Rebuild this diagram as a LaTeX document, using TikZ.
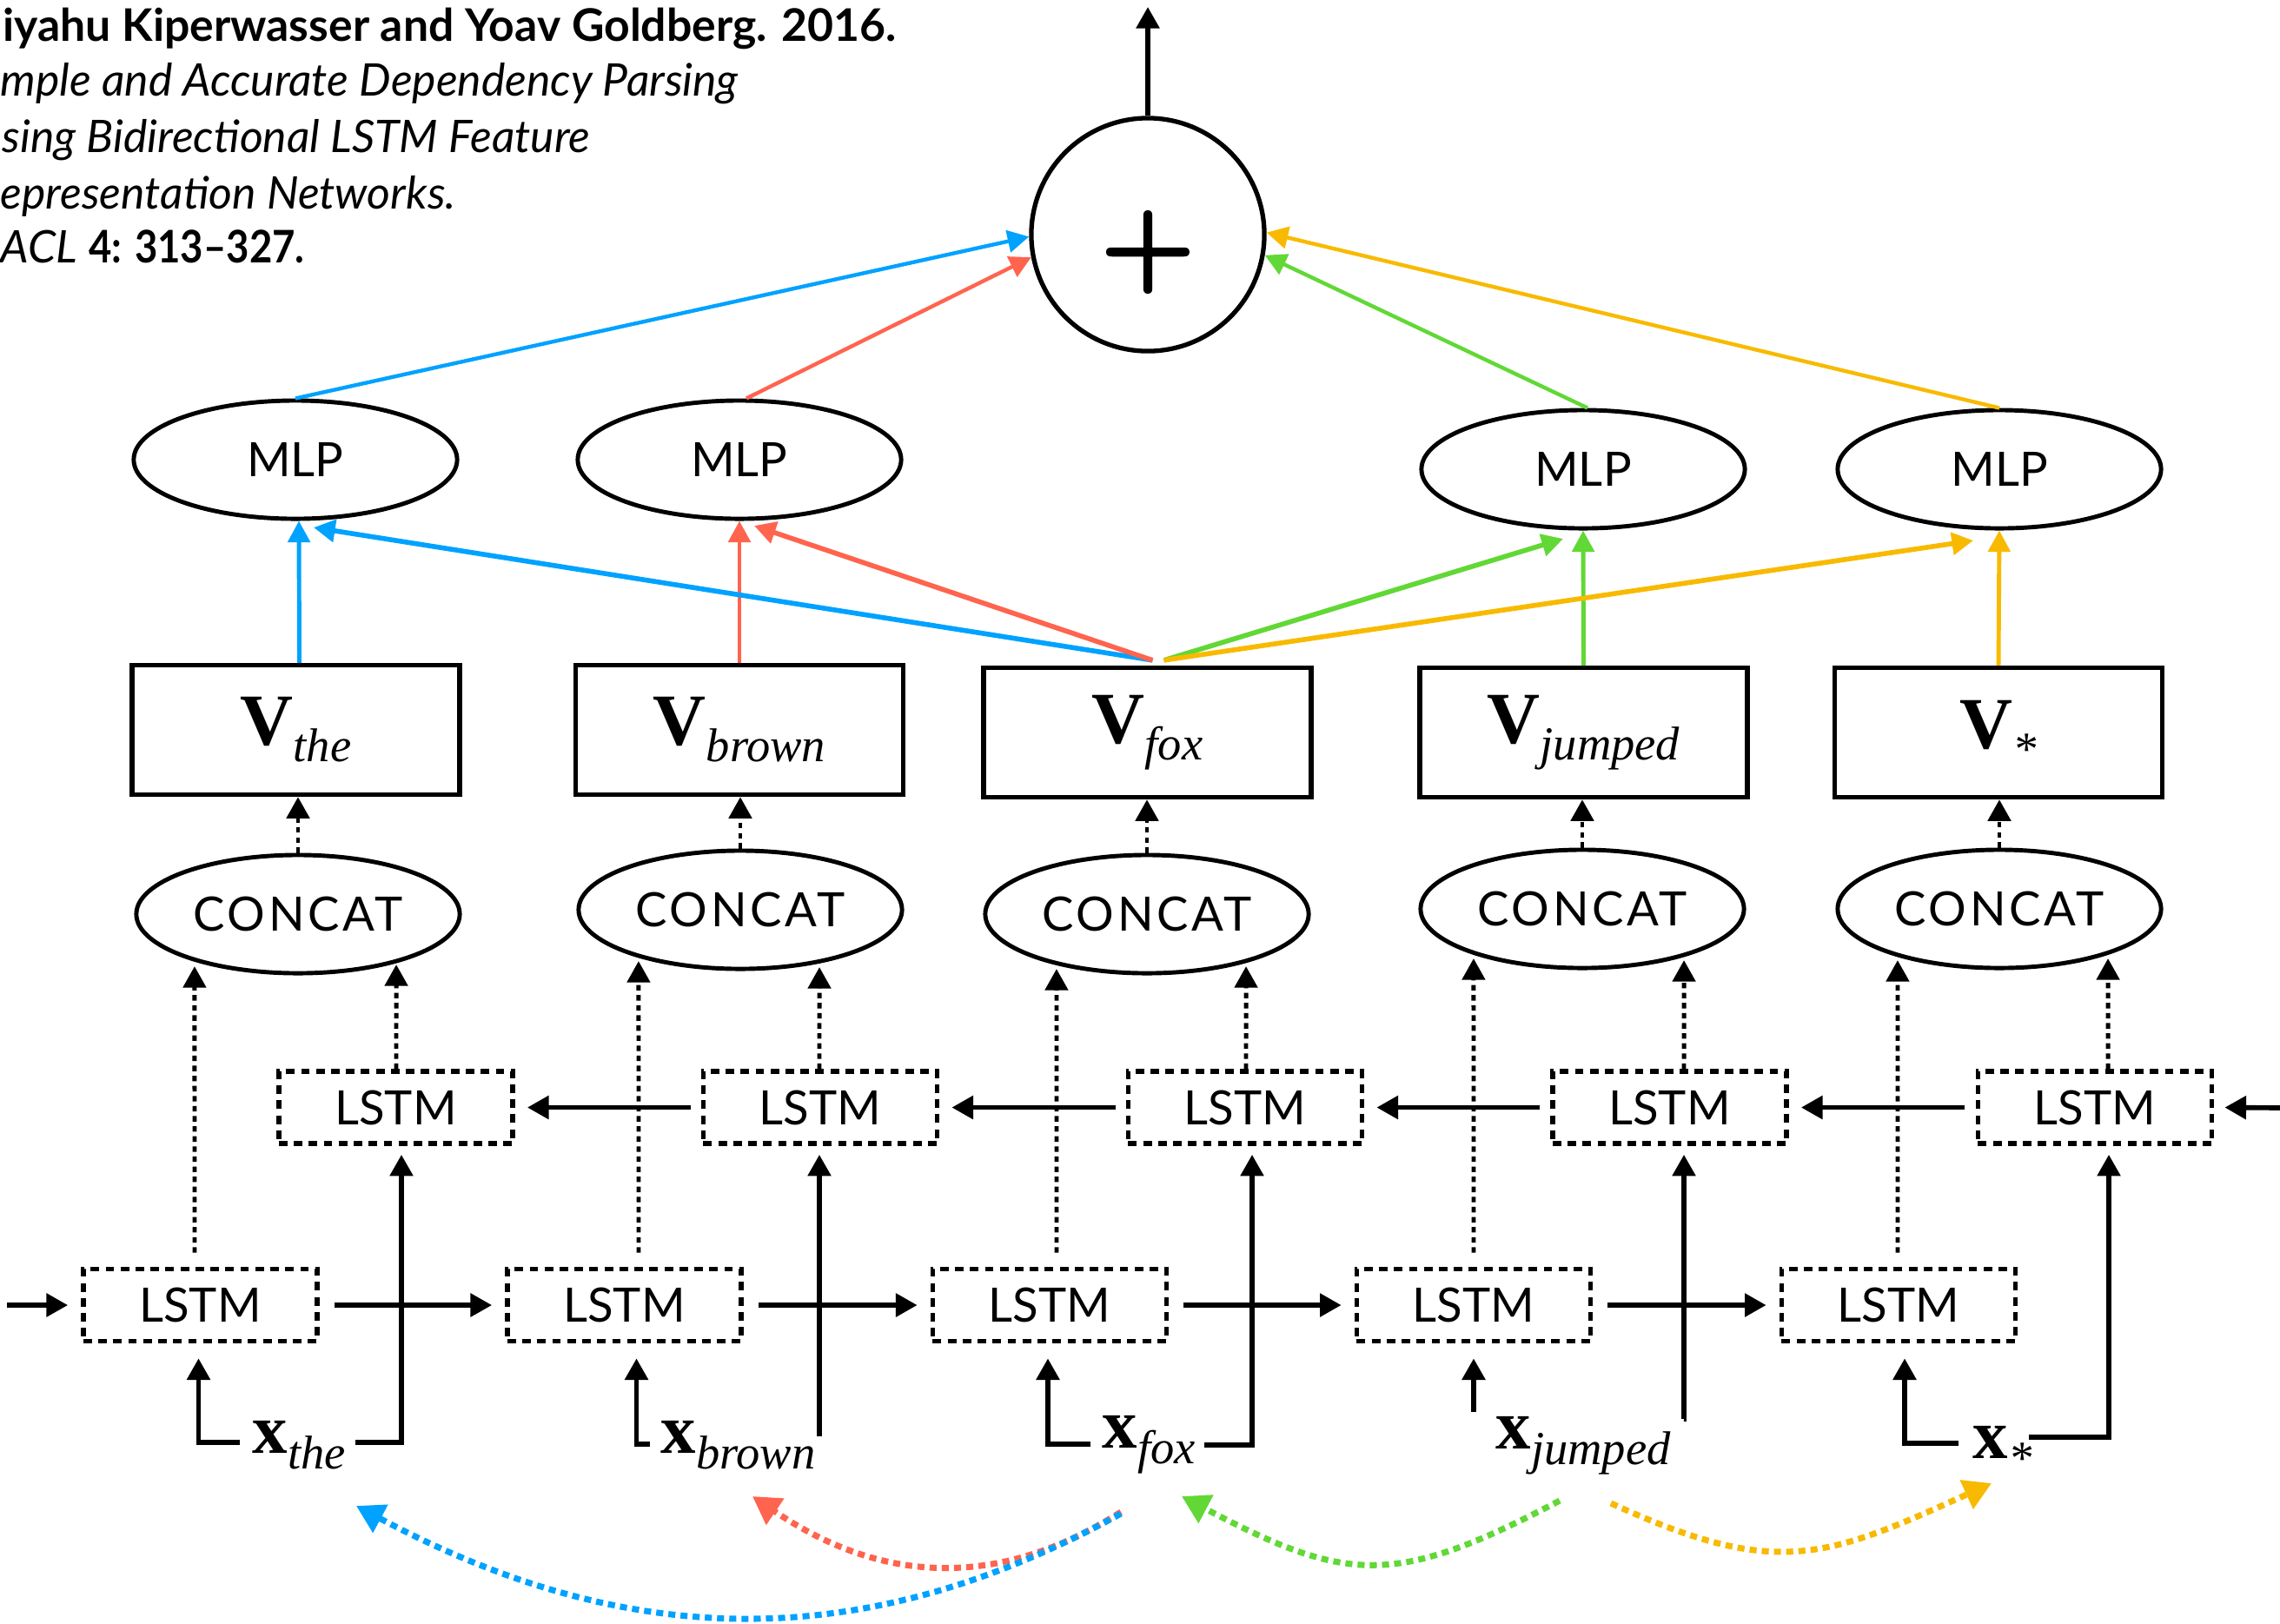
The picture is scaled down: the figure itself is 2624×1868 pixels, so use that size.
\documentclass[tikz,border=0pt]{standalone}
\usepackage{fontspec}
\setmainfont{Lato}
\newfontfamily\gill{Lato}
\newfontfamily\tnr{Liberation Serif}
\newfontfamily\plusfont[FakeBold=3]{Latin Modern Roman}
\usetikzlibrary{shapes.geometric,arrows.meta,calc}
\definecolor{cblue}{RGB}{0,162,255}
\definecolor{cred}{RGB}{255,100,78}
\definecolor{cgreen}{RGB}{97,216,54}
\definecolor{cyellow}{RGB}{248,186,0}
\newcommand{\vlab}[1]{{\tnr\fontsize{24}{28}\selectfont\bfseries V}\raisebox{-0.19cm}{\tnr\fontsize{15.5}{18}\selectfont\itshape #1}}
\newcommand{\xlab}[1]{{\tnr\fontsize{23}{28}\selectfont\bfseries x}\raisebox{-0.18cm}{\tnr\fontsize{15.5}{18}\selectfont\itshape #1}}
\newcommand{\lst}{\raisebox{-0.07cm}{LSTM}}
\newcommand{\cct}{{\addfontfeature{LetterSpace=7}CONCA}T}
\begin{document}
\begin{tikzpicture}[x=0.01cm,y=-0.01cm,
  lstmbox/.style={draw, line width=1.6pt, dash pattern=on 2.8pt off 2.1pt, minimum width=2.69cm, minimum height=0.83cm, inner sep=0pt, font=\gill\fontsize{15.5}{18}\selectfont},
  vbox/.style={draw, line width=1.5pt, minimum width=3.77cm, minimum height=1.49cm, inner sep=0pt},
  ellbox/.style={ellipse, draw, line width=1.4pt, minimum width=3.72cm, minimum height=1.36cm, inner sep=0pt, font=\gill\fontsize{15.5}{18}\selectfont},
  blk/.style={line width=1.6pt, -{Triangle[length=7pt,width=7.4pt]}},
  dotblk/.style={line width=1.4pt, dash pattern=on 1.8pt off 1.5pt, -{Triangle[length=7pt,width=7.4pt]}},
  colarr/.style={line width=1.4pt, draw=#1, -{Triangle[length=7pt,width=7.2pt]}},
  toparr/.style={line width=1.25pt, draw=#1, -{Triangle[length=7pt,width=7.2pt]}},
  curv/.style={line width=2pt, draw=#1, dash pattern=on 2.3pt off 1.7pt, -{Triangle[length=9pt,width=10pt]}},
  wlab/.style={anchor=base west, inner sep=0pt},
  citeline/.style={anchor=base west, inner sep=0pt}
]
\useasboundingbox (0,0) rectangle (2624,1868);

% citation
\node[citeline, font=\gill\bfseries\fontsize{14.7}{17}\selectfont] (cite1) at (3,47) {iyahu Kiperwasser and Yoav Goldberg. 2016.};
\node[citeline, font=\gill\itshape\fontsize{14.7}{17}\selectfont] (cite2) at (0,110) {mple and Accurate Dependency Parsing};
\node[citeline, font=\gill\itshape\fontsize{14.7}{17}\selectfont] (cite3) at (2,175) {sing Bidirectional LSTM Feature};
\node[citeline, font=\gill\itshape\fontsize{14.7}{17}\selectfont] (cite4) at (0,240) {epresentation Networks.};
\node[citeline, font=\gill\fontsize{14.7}{17}\selectfont] (cite5) at (0,302) {\textit{ACL} \scalebox{0.88}[1]{\textbf{4: 313–327.}}};

% sum node
\node[circle, draw, line width=1.5pt, minimum size=2.68cm, inner sep=0pt] (plus) at (1321,270) {};
\node[font=\plusfont\bfseries\fontsize{35}{35}\selectfont, inner sep=0pt] (plussign) at (1321,290) {+};
\coordinate (out) at (1321,8);
\draw[blk] (plus.north) -- (out);

% MLPs
\node[ellbox] (M1) at (340,529) {MLP};
\node[ellbox] (M2) at (851,529) {MLP};
\node[ellbox] (M3) at (1822,540) {MLP};
\node[ellbox] (M4) at (2301,540) {MLP};

% V boxes
\node[vbox] (V1) at (340.5,840) {\vlab{the}};
\node[vbox] (V2) at (851,840) {\vlab{brown}};
\node[vbox] (V3) at (1320.5,843) {\vlab{fox}};
\node[vbox] (V4) at (1822.5,843) {\vlab{jumped}};
\node[vbox] (V5) at (2300,843) {\vlab{*}};

% CONCAT
\node[ellbox] (C1) at (343,1052) {\cct};
\node[ellbox] (C2) at (852,1047) {\cct};
\node[ellbox] (C3) at (1320,1052) {\cct};
\node[ellbox] (C4) at (1821,1046) {\cct};
\node[ellbox] (C5) at (2301,1046) {\cct};

% LSTMs
\node[lstmbox] (U1) at (455.5,1274.5) {\lst};
\node[lstmbox] (U2) at (944,1274.5) {\lst};
\node[lstmbox] (U3) at (1433,1274.5) {\lst};
\node[lstmbox] (U4) at (1921.5,1274.5) {\lst};
\node[lstmbox] (U5) at (2411,1274.5) {\lst};
\node[lstmbox] (L1) at (230.5,1502) {\lst};
\node[lstmbox] (L2) at (718.5,1502) {\lst};
\node[lstmbox] (L3) at (1208,1502) {\lst};
\node[lstmbox] (L4) at (1696,1502) {\lst};
\node[lstmbox] (L5) at (2185,1502) {\lst};

% word labels
\node[wlab] (xthe) at (290,1672) {\xlab{the}};
\node[wlab] (xbrown) at (760,1672) {\xlab{brown}};
\node[wlab] (xfox) at (1268,1666) {\xlab{fox}};
\node[wlab] (xjumped) at (1721,1667) {\xlab{jumped}};
\node[wlab] (xstar) at (2270,1678) {\xlab{*}};

% forward chain
\coordinate (lin) at (8,1502);
\draw[blk] (lin) -- ([xshift=-0.15cm]L1.west);
\draw[blk] ([xshift=0.17cm]L1.east) -- ([xshift=-0.15cm]L2.west);
\draw[blk] ([xshift=0.17cm]L2.east) -- ([xshift=-0.15cm]L3.west);
\draw[blk] ([xshift=0.17cm]L3.east) -- ([xshift=-0.15cm]L4.west);
\draw[blk] ([xshift=0.17cm]L4.east) -- ([xshift=-0.15cm]L5.west);
% backward chain
\coordinate (rin) at (2624,1275);
\draw[blk] (rin) -- ([xshift=0.12cm]U5.east);
\draw[blk] ([xshift=-0.13cm]U5.west) -- ([xshift=0.14cm]U4.east);
\draw[blk] ([xshift=-0.12cm]U4.west) -- ([xshift=0.14cm]U3.east);
\draw[blk] ([xshift=-0.12cm]U3.west) -- ([xshift=0.14cm]U2.east);
\draw[blk] ([xshift=-0.12cm]U2.west) -- ([xshift=0.14cm]U1.east);

% inputs
\coordinate (b1a) at (276,1660); \coordinate (b1b) at (409,1660);
\coordinate (b2a) at (748,1662); \coordinate (b2b) at (943,1653);
\coordinate (b3a) at (1255,1662); \coordinate (b3b) at (1386,1663);
\coordinate (b4a) at (1696,1625); \coordinate (b4b) at (1938,1633);
\coordinate (b5a) at (2254,1661); \coordinate (b5b) at (2335,1654);
\draw[blk] (b1a) -| ([xshift=-0.02cm,yshift=-0.17cm]L1.south);
\draw[blk] (b1b) -| ([xshift=0.065cm,yshift=-0.10cm]U1.south);
\draw[blk] (b2a) -| ([xshift=0.14cm,yshift=-0.17cm]L2.south);
\draw[blk] (b2b) -| ([xshift=-0.01cm,yshift=-0.10cm]U2.south);
\draw[blk] (b3a) -| ([xshift=-0.02cm,yshift=-0.17cm]L3.south);
\draw[blk] (b3b) -| ([xshift=0.08cm,yshift=-0.10cm]U3.south);
\draw[blk] (b4a) -| ([yshift=-0.17cm]L4.south);
\draw[blk] (b4b) -| ([xshift=0.165cm,yshift=-0.10cm]U4.south);
\draw[blk] (b5a) -| ([xshift=0.07cm,yshift=-0.17cm]L5.south);
\draw[blk] (b5b) -| ([xshift=0.16cm,yshift=-0.10cm]U5.south);

% LSTM -> CONCAT
\draw[dotblk] ([xshift=-0.065cm,yshift=0.16cm]L1.north) -- ([xshift=-1.19cm,yshift=-0.60cm]C1.center);
\draw[dotblk] ([xshift=0.165cm,yshift=0.16cm]L2.north) -- ([xshift=-1.17cm,yshift=-0.59cm]C2.center);
\draw[dotblk] ([xshift=0.08cm,yshift=0.16cm]L3.north) -- ([xshift=-1.04cm,yshift=-0.63cm]C3.center);
\draw[dotblk] ([yshift=0.16cm]L4.north) -- ([xshift=-1.25cm,yshift=-0.57cm]C4.center);
\draw[dotblk] ([xshift=-0.01cm,yshift=0.16cm]L5.north) -- ([xshift=-1.17cm,yshift=-0.59cm]C5.center);
\draw[dotblk] ([xshift=0.005cm]U1.north) -- ([xshift=1.13cm,yshift=-0.58cm]C1.center);
\draw[dotblk] ([xshift=-0.01cm]U2.north) -- ([xshift=0.91cm,yshift=-0.66cm]C2.center);
\draw[dotblk] ([xshift=0.01cm]U3.north) -- ([xshift=1.14cm,yshift=-0.60cm]C3.center);
\draw[dotblk] ([xshift=0.165cm]U4.north) -- ([xshift=1.17cm,yshift=-0.59cm]C4.center);
\draw[dotblk] ([xshift=0.15cm]U5.north) -- ([xshift=1.25cm,yshift=-0.57cm]C5.center);

% CONCAT -> V
\draw[dotblk] (C1.north) -- (C1.north |- V1.south);
\draw[dotblk] (C2.north) -- (C2.north |- V2.south);
\draw[dotblk] (C3.north) -- (C3.north |- V3.south);
\draw[dotblk] (C4.north) -- (C4.north |- V4.south);
\draw[dotblk] (C5.north) -- (C5.north |- V5.south);

% V -> MLP
\draw[colarr=cblue] ([xshift=0.04cm]V1.north) -- ([xshift=0.04cm]M1.south);
\draw[colarr=cred] (V2.north) -- (M2.south);
\draw[colarr=cgreen] (V4.north) -- (M3.south);
\draw[colarr=cyellow] (V5.north) -- (M4.south);
\draw[colarr=cblue, line width=1.6pt] ([xshift=0.06cm,yshift=0.06cm]V3.north) -- ([xshift=0.21cm,yshift=-0.78cm]M1.center);
\draw[colarr=cred, line width=1.6pt] ([xshift=0.06cm,yshift=0.06cm]V3.north) -- ([xshift=0.17cm,yshift=-0.76cm]M2.center);
\draw[colarr=cgreen, line width=1.6pt] ([xshift=0.19cm,yshift=0.06cm]V3.north) -- ([xshift=-0.23cm,yshift=-0.80cm]M3.center);
\draw[colarr=cyellow, line width=1.6pt] ([xshift=0.19cm,yshift=0.06cm]V3.north) -- ([xshift=-0.30cm,yshift=-0.82cm]M4.center);

% MLP -> sum
\draw[toparr=cblue] (M1.north) -- (plus.181);
\draw[toparr=cred] ([xshift=0.08cm]M2.north) -- (plus.191);
\draw[toparr=cgreen] ([xshift=0.05cm]M3.north) -- (plus.350);
\draw[toparr=cyellow] (M4.north) -- (plus.1);

% bottom curved arrows
\coordinate (crS) at (1290,1740); \coordinate (crE) at (866,1722);
\coordinate (cbS) at (1290,1742); \coordinate (cbE) at (410,1733);
\coordinate (cgS) at (1795,1727); \coordinate (cgE) at (1360,1722);
\coordinate (cyS) at (1854,1730); \coordinate (cyE) at (2292,1707);
\draw[curv=cred] (crS) .. controls (1140,1835) and (1006,1817) .. (crE);
\draw[curv=cblue] (cbS) .. controls (990,1907) and (720,1898) .. (cbE);
\draw[curv=cgreen] (cgS) .. controls (1605,1827) and (1550,1822) .. (cgE);
\draw[curv=cyellow] (cyS) .. controls (2044,1817) and (2100,1794) .. (cyE);
\end{tikzpicture}
\end{document}
